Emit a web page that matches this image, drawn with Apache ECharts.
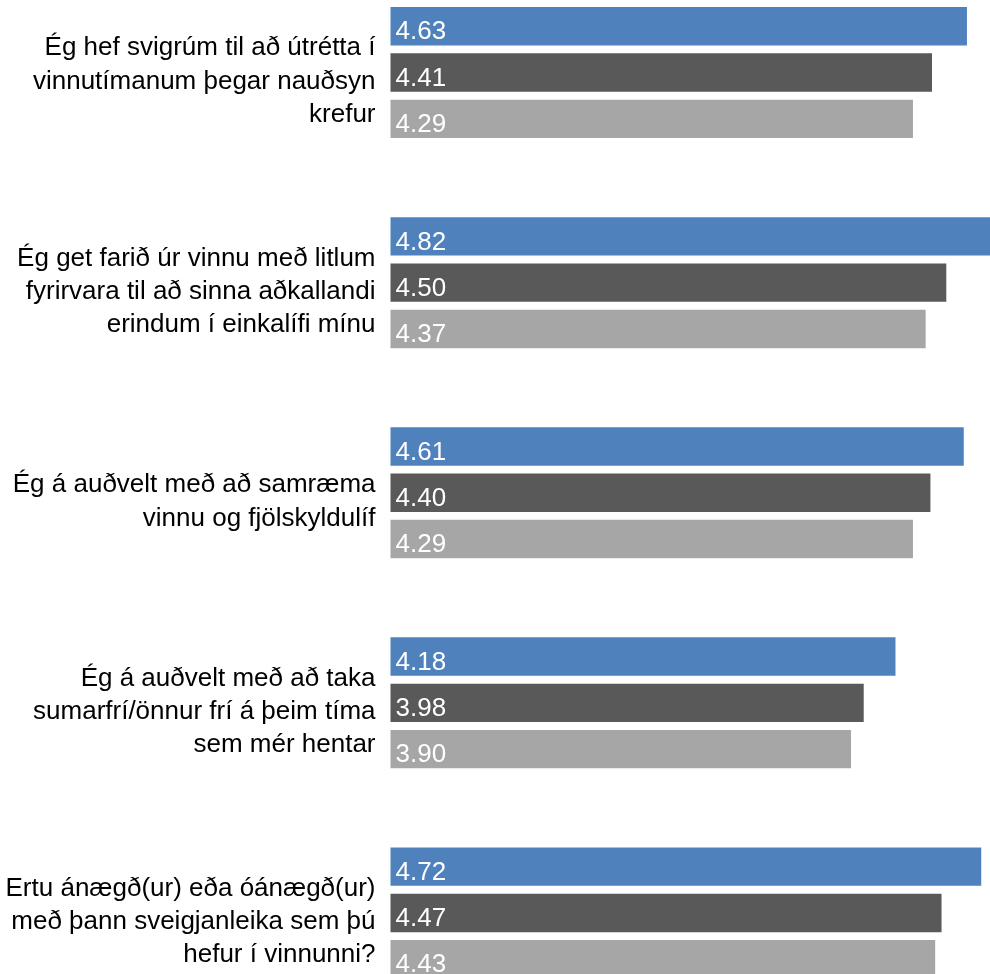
<!DOCTYPE html>
<html>
<head>
<meta charset="utf-8">
<script src="https://cdn.jsdelivr.net/npm/echarts@6/dist/echarts.min.js"></script>
<style>
html,body{margin:0;padding:0;background:#fff;}
#c{width:990px;height:974px;}
</style>
</head>
<body>
<div id="c"></div>
<script>
const categories = [
  "Ég hef svigrúm til að útrétta í\nvinnutímanum þegar nauðsyn\nkrefur",
  "Ég get farið úr vinnu með litlum\nfyrirvara til að sinna aðkallandi\nerindum í einkalífi mínu",
  "Ég á auðvelt með að samræma\nvinnu og fjölskyldulíf",
  "Ég á auðvelt með að taka\nsumarfrí/önnur frí á þeim tíma\nsem mér hentar",
  "Ertu ánægð(ur) eða óánægð(ur)\nmeð þann sveigjanleika sem þú\nhefur í vinnunni?"
];
const seriesBlue = [4.63, 4.82, 4.61, 4.18, 4.72];
const seriesDark = [4.41, 4.50, 4.40, 3.98, 4.47];
const seriesLight = [4.29, 4.37, 4.29, 3.90, 4.43];
const seriesNames = ["Hópur 1", "Hópur 2", "Hópur 3"];
const colors = ["#4F81BD", "#595959", "#A6A6A6"];

const chart = echarts.init(document.getElementById('c'), null, {renderer: 'canvas'});
const font = "Arial, 'Liberation Sans', sans-serif";
function mk(name, data, color) {
  return {
    name: name,
    type: 'bar',
    data: data,
    barWidth: 38.4,
    barGap: '20.6%',
    itemStyle: {color: color},
    label: {
      show: true,
      position: 'insideLeft',
      distance: 5,
      offset: [0, 6],
      color: '#fff',
      fontFamily: font,
      fontSize: 26,
      formatter: p => p.value.toFixed(2)
    },
    animation: false
  };
}
chart.setOption({
  animation: false,
  backgroundColor: '#fff',
  grid: {left: 390.5, width: 635.2, top: -32.5, height: 1050.5, containLabel: false, outerBoundsMode: 'none'},
  xAxis: {
    type: 'value', min: 1, max: 5, interval: 1,
    show: false, splitLine: {show: false}
  },
  yAxis: {
    type: 'category', inverse: true, data: categories,
    axisLine: {show: false}, axisTick: {show: false},
    axisLabel: {
      margin: 15, align: 'right',
      formatter: v => '{p| }\n' + v.split('\n').map(l => '{t|' + l + '}').join('\n'),
      rich: {
        p: {fontSize: 1, lineHeight: 18, height: 18},
        t: {color: '#000', fontFamily: font, fontSize: 26, lineHeight: 33.3, align: 'right'}
      }
    }
  },
  series: [
    mk(seriesNames[0], seriesBlue, colors[0]),
    mk(seriesNames[1], seriesDark, colors[1]),
    mk(seriesNames[2], seriesLight, colors[2])
  ]
});
</script>
</body>
</html>
